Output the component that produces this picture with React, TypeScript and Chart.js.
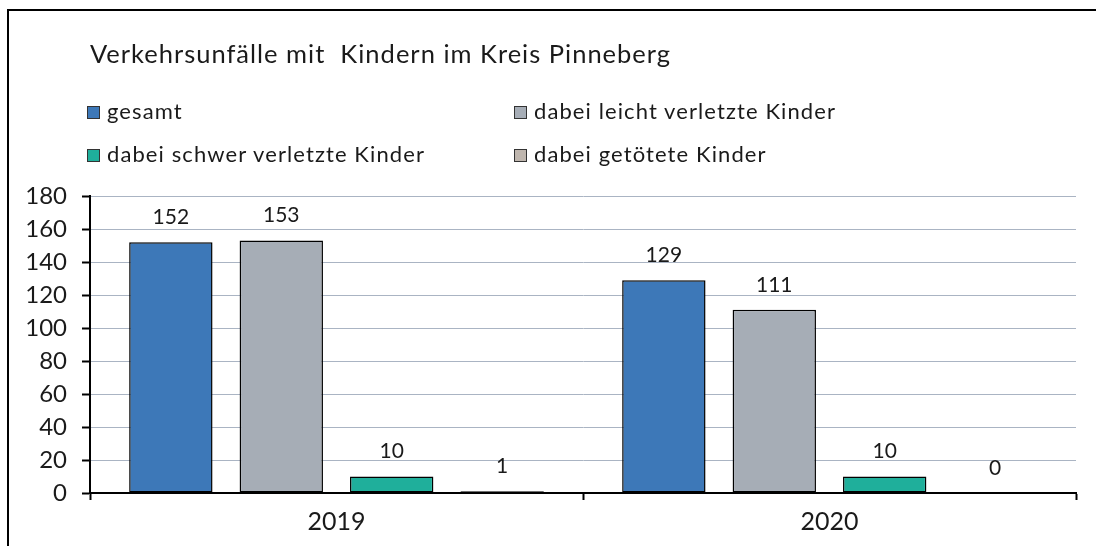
import React, { useEffect, useRef } from "react";
import { Chart, registerables } from "chart.js";

Chart.register(...registerables);

const TITLE = "Verkehrsunfälle mit  Kindern im Kreis Pinneberg";
const categories = ["2019", "2020"];
const seriesNames = [
  "gesamt",
  "dabei leicht verletzte Kinder",
  "dabei schwer verletzte Kinder",
  "dabei getötete Kinder",
];
const gesamt = [152, 129];
const leichtVerletzt = [153, 111];
const schwerVerletzt = [10, 10];
const getoetet = [1, 0];
const seriesValues = [gesamt, leichtVerletzt, schwerVerletzt, getoetet];
const seriesColors = ["#3d78b8", "#a6adb6", "#1faf9b", "#bfb6ae"];
const yMin = 0;
const yMax = 180;
const yStep = 20;

const FONT = "Lato, 'Open Sans', sans-serif";
const TEXT = "#1a1a1a";

const valueLabels = {
  id: "valueLabels",
  afterDatasetsDraw(chart: any) {
    const ctx = chart.ctx;
    ctx.save();
    ctx.font = `21px ${FONT}`;
    ctx.fillStyle = TEXT;
    ctx.textAlign = "center";
    ctx.textBaseline = "middle";
    chart.data.datasets.forEach((ds: any, i: number) => {
      const meta = chart.getDatasetMeta(i);
      meta.data.forEach((bar: any, j: number) => {
        ctx.fillText(String(ds.data[j]), bar.x, bar.y - 25);
      });
    });
    ctx.restore();
  },
};

export default function App() {
  const ref = useRef<HTMLCanvasElement | null>(null);

  useEffect(() => {
    if (!ref.current) return;
    const chart = new Chart(ref.current, {
      type: "bar",
      data: {
        labels: categories,
        datasets: seriesNames.map((name, i) => ({
          label: name,
          data: seriesValues[i],
          backgroundColor: seriesColors[i],
          borderColor: "#000000",
          borderWidth: 1.5,
          borderSkipped: false,
          categoryPercentage: 0.896,
          barPercentage: 0.755,
        })),
      },
      options: {
        animation: false,
        responsive: false,
        maintainAspectRatio: false,
        events: [],
        layout: { padding: { left: 0, right: 20, top: 196, bottom: 0 } },
        plugins: {
          legend: { display: false },
          title: { display: false },
          tooltip: { enabled: false },
        },
        scales: {
          x: {
            grid: {
              display: true,
              drawOnChartArea: false,
              drawTicks: true,
              tickLength: 7,
              tickColor: "#000",
              tickWidth: 2,
              offset: true,
            },
            border: { display: true, color: "#000", width: 2 },
            ticks: { color: TEXT, font: { family: FONT, size: 25 }, padding: 7 },
            afterFit: (s: any) => {
              s.height = 53;
            },
          },
          y: {
            min: yMin,
            max: yMax,
            ticks: {
              stepSize: yStep,
              color: TEXT,
              font: { family: FONT, size: 24 },
              padding: 15,
            },
            grid: {
              color: "#aab4c3",
              lineWidth: 1,
              tickColor: "#000",
              tickWidth: 2,
              tickLength: 8,
            },
            border: { display: true, color: "#000", width: 2 },
            afterFit: (s: any) => {
              s.width = 90;
            },
          },
        },
      },
      plugins: [valueLabels],
    });
    return () => chart.destroy();
  }, []);

  const legendPos = [
    { x: 87, y: 100 },
    { x: 514, y: 100 },
    { x: 87, y: 143 },
    { x: 514, y: 143 },
  ];

  return (
    <div
      style={{
        position: "fixed",
        left: 0,
        top: 0,
        width: 1096,
        height: 546,
        background: "#fff",
        overflow: "hidden",
        fontFamily: FONT,
        color: TEXT,
      }}
    >
      <div
        style={{
          position: "absolute",
          left: 7,
          top: 9,
          width: 1200,
          height: 700,
          borderTop: "2px solid #000",
          borderLeft: "2px solid #000",
        }}
      />
      <canvas
        ref={ref}
        width={1096}
        height={546}
        style={{ position: "absolute", left: 0, top: 0, width: 1096, height: 546 }}
      />
      <div
        style={{
          position: "absolute",
          left: 90,
          top: 41,
          fontSize: 25.5,
          lineHeight: "25.5px",
          letterSpacing: 1,
          whiteSpace: "pre",
        }}
      >
        {TITLE}
      </div>
      {seriesNames.map((name, i) => (
        <div
          key={name}
          style={{
            position: "absolute",
            left: legendPos[i].x,
            top: legendPos[i].y,
            display: "flex",
            alignItems: "flex-start",
            whiteSpace: "pre",
            fontSize: 22,
            lineHeight: "22px",
            letterSpacing: 1.1,
          }}
        >
          <span
            style={{
              display: "inline-block",
              boxSizing: "border-box",
              width: 13,
              height: 13,
              marginTop: 6,
              marginRight: 7,
              background: seriesColors[i],
              border: "1px solid #333",
            }}
          />
          <span>{name}</span>
        </div>
      ))}
    </div>
  );
}
